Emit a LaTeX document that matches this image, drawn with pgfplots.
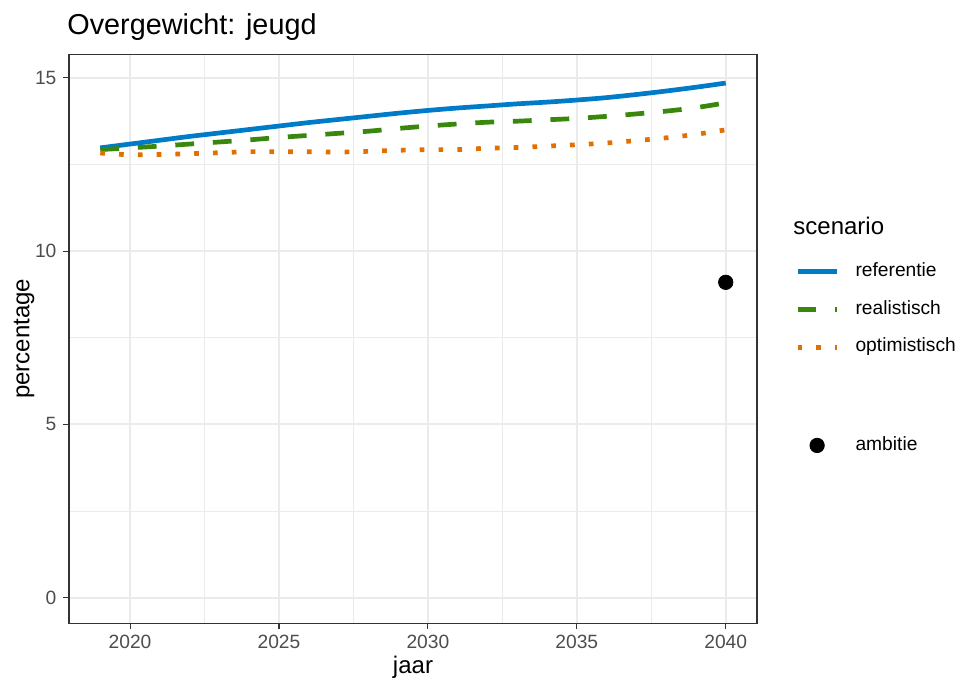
\documentclass[border=0pt]{standalone}
\usepackage{pgfplots}
\pgfplotsset{compat=1.18}
\usepackage{fontspec}
\setmainfont{Liberation Sans}
\definecolor{refblue}{HTML}{007BC7}
\definecolor{realgreen}{HTML}{39870C}
\definecolor{optorange}{HTML}{E17000}
\definecolor{gridgray}{RGB}{235,235,235}
\definecolor{gray20}{RGB}{51,51,51}
\definecolor{gray30}{RGB}{77,77,77}
\pgfplotsset{
  lineleg/.style={legend image code/.code={\draw[##1] (0pt,0pt) -- (19.5pt,0pt);}},
  dotleg/.style={legend image code/.code={\draw[##1] plot coordinates {(9.75pt,0pt)};}},
}
\begin{document}
\begin{tikzpicture}
\useasboundingbox (-34.5pt,-28.35pt) rectangle (444.5pt,311.65pt);
\begin{axis}[
  name=ax,
  at={(0,0)}, anchor=south west,
  scale only axis,
  width=344pt, height=284.5pt,
  xmin=2017.95, xmax=2041.05,
  ymin=-0.74, ymax=15.68,
  xtick={2020,2025,2030,2035,2040},
  minor xtick={2022.5,2027.5,2032.5,2037.5},
  ytick={0,5,10,15},
  minor ytick={2.5,7.5,12.5},
  grid=both,
  major grid style={color=gridgray, line width=0.9pt},
  minor grid style={color=gridgray, line width=0.45pt},
  tick align=outside,
  tick pos=left,
  major tick length=2.9pt,
  minor tick length=0pt,
  major tick style={color=gray20, line width=0.55pt},
  axis line style={color=gray20, line width=0.55pt},
  /pgf/number format/assume math mode=true,
  /pgf/number format/1000 sep={},
  xticklabel style={font=\fontsize{9.6}{11}\selectfont, text=gray30, anchor=base, inner sep=0pt, yshift=-9.6pt},
  yticklabel style={font=\fontsize{9.6}{11}\selectfont, text=gray30, anchor=east, inner sep=0pt, xshift=-3.2pt},
  legend style={at={(axis description cs:1.0556,0.634)}, anchor=north west,
    draw=none, fill=none, inner sep=0pt, outer sep=0pt,
    row sep=9.9pt, column sep=8.3pt,
    font=\fontsize{9.6}{11}\selectfont,
    nodes={inner sep=0pt, text height=6.9pt, text depth=2.1pt}},
  legend cell align=left,
  lineleg,
]
\addplot[refblue, line width=2.35pt, line cap=butt, smooth, tension=0.5] coordinates {
(2019,12.98) (2020,13.09) (2021,13.20) (2022,13.31) (2023,13.41) (2024,13.51)
(2025,13.61) (2026,13.71) (2027,13.80) (2028,13.89) (2029,13.98) (2030,14.06)
(2031,14.13) (2032,14.19) (2033,14.25) (2034,14.30) (2035,14.36) (2036,14.43)
(2037,14.52) (2038,14.62) (2039,14.73) (2040,14.85)};
\addlegendentry{referentie}
\addplot[realgreen, line width=2.35pt, line cap=butt, dash pattern=on 9.4pt off 9.4pt, smooth, tension=0.5] coordinates {
(2019,12.93) (2020,12.98) (2021,13.03) (2022,13.09) (2023,13.15) (2024,13.21)
(2025,13.28) (2026,13.34) (2027,13.40) (2028,13.46) (2029,13.54) (2030,13.61)
(2031,13.67) (2032,13.72) (2033,13.75) (2034,13.79) (2035,13.83) (2036,13.89)
(2037,13.96) (2038,14.04) (2039,14.14) (2040,14.28)};
\addlegendentry{realistisch}
\addplot[optorange, line width=2.35pt, line cap=butt, dash pattern=on 2.35pt off 7.05pt, smooth, tension=0.5] coordinates {
(2019,12.83) (2020,12.78) (2021,12.79) (2022,12.81) (2023,12.84) (2024,12.87)
(2025,12.87) (2026,12.87) (2027,12.86) (2028,12.88) (2029,12.91) (2030,12.93)
(2031,12.93) (2032,12.97) (2033,12.99) (2034,13.03) (2035,13.07) (2036,13.12)
(2037,13.19) (2038,13.27) (2039,13.37) (2040,13.50)};
\addlegendentry{optimistisch}
\addlegendimage{empty legend}
\addlegendentry[text height=20.35pt, text depth=0pt]{}
\addplot[only marks, mark=*, mark size=3.6pt, black, dotleg] coordinates {(2040,9.1)};
\addlegendentry{ambitie}
\end{axis}
\node[anchor=base west, inner sep=0pt, font=\fontsize{14.4}{17}\selectfont] at (-1pt,294.15pt) {Overgewicht: jeugd};
\node[anchor=base, inner sep=0pt, font=\fontsize{12}{14}\selectfont] at (172pt,-25.3pt) {jaar};
\node[anchor=center, inner sep=0pt, rotate=90, font=\fontsize{12}{14}\selectfont] at (-22.5pt,142.25pt) {percentage};
\node[anchor=base west, inner sep=0pt, font=\fontsize{12}{14}\selectfont] at (362pt,194.15pt) {scenario};
\end{tikzpicture}
\end{document}
